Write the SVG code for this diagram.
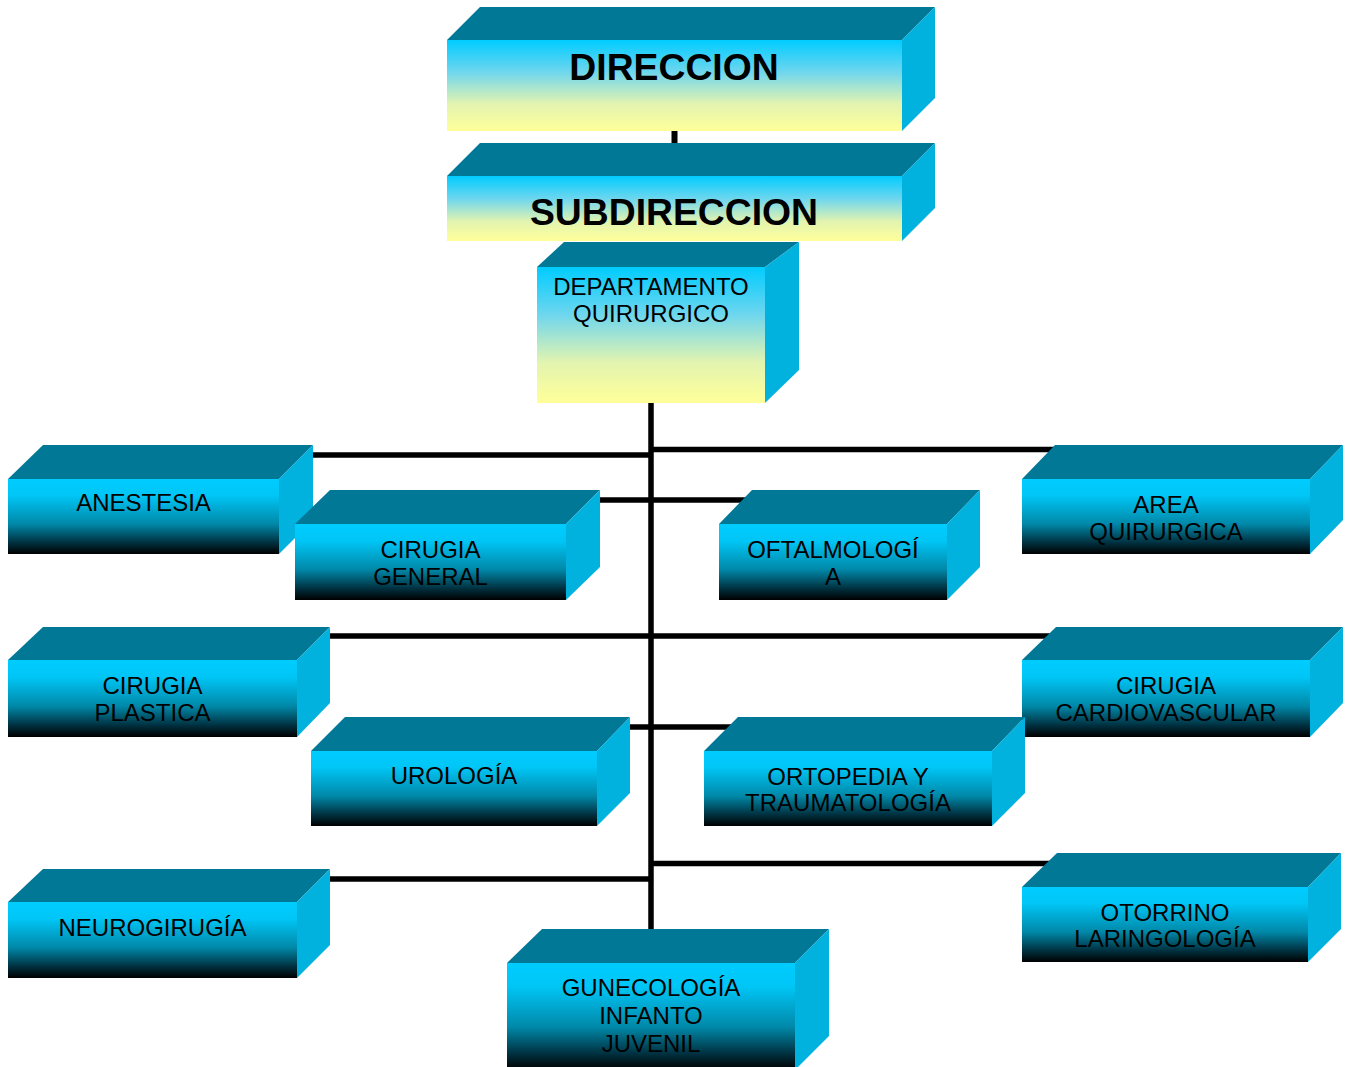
<svg xmlns="http://www.w3.org/2000/svg" width="1354" height="1067" viewBox="0 0 1354 1067">
  <defs>
    <linearGradient id="gy" x1="0" y1="0" x2="0" y2="1">
      <stop offset="0" stop-color="#00CCFF"/>
      <stop offset="0.35" stop-color="#6ED6EE"/>
      <stop offset="0.7" stop-color="#E2F4B0"/>
      <stop offset="1" stop-color="#FFFF99"/>
    </linearGradient>
    <linearGradient id="gb" x1="0" y1="0" x2="0" y2="1">
      <stop offset="0" stop-color="#00CCFF"/>
      <stop offset="0.22" stop-color="#00C6F6"/>
      <stop offset="0.6" stop-color="#0088A8"/>
      <stop offset="0.85" stop-color="#00303F"/>
      <stop offset="1" stop-color="#000000"/>
    </linearGradient>
    <style>
      .top { fill: #007896; }
      .side { fill: #00B2DD; }
      .fy { fill: url(#gy); }
      .fb { fill: url(#gb); }
      .lbl { font-family: "Liberation Sans", Arial, sans-serif; font-size: 24px; fill: #000; text-anchor: middle; }
      .big { font-family: "Liberation Sans", Arial, sans-serif; font-size: 37.3px; font-weight: bold; fill: #000; text-anchor: middle; }
      .ln { stroke: #000; stroke-width: 5.5; fill: none; }
    </style>
  </defs>
  <rect width="1354" height="1067" fill="#fff"/>

  <!-- connector lines, drawn under the boxes -->
  <g id="connectors">
    <line class="ln" x1="674.5" y1="128" x2="674.5" y2="146" style="stroke-width:6"/>
    <line class="ln" x1="651" y1="400" x2="651" y2="935"/>
    <line class="ln" x1="310" y1="455" x2="651" y2="455"/>
    <line class="ln" x1="651" y1="449.5" x2="1062" y2="449.5"/>
    <line class="ln" x1="598" y1="500" x2="765" y2="500"/>
    <line class="ln" x1="328" y1="636" x2="1062" y2="636"/>
    <line class="ln" x1="628" y1="727" x2="750" y2="727"/>
    <line class="ln" x1="651" y1="863.5" x2="1062" y2="863.5"/>
    <line class="ln" x1="328" y1="879" x2="651" y2="879"/>
  </g>

  <g id="direccion">
    <polygon class="top" points="447,40 480,7 935,7 902,40"/>
    <polygon class="side" points="902,40 935,7 935,98 902,131"/>
    <rect class="fy" x="447" y="40" width="455" height="91"/>
    <text class="big" x="674" y="80">DIRECCION</text>
  </g>

  <g id="subdireccion">
    <polygon class="top" points="447,176 480,143 935,143 902,176"/>
    <polygon class="side" points="902,176 935,143 935,208 902,241"/>
    <rect class="fy" x="447" y="176" width="455" height="65"/>
    <text class="big" x="674" y="225">SUBDIRECCION</text>
  </g>

  <g id="departamento">
    <polygon class="top" points="537,267 564,242 799,242 765,267"/>
    <polygon class="side" points="765,267 799,242 799,370 765,403"/>
    <rect class="fy" x="537" y="267" width="228" height="136"/>
    <text class="lbl" x="651" y="295">DEPARTAMENTO</text>
    <text class="lbl" x="651" y="322">QUIRURGICO</text>
  </g>

  <g id="anestesia">
    <polygon class="top" points="8,479 43,445 313,445 279,479"/>
    <polygon class="side" points="279,479 313,445 313,520 279,554"/>
    <rect class="fb" x="8" y="479" width="271" height="75"/>
    <text class="lbl" x="143.5" y="511">ANESTESIA</text>
  </g>

  <g id="cirugia-general">
    <polygon class="top" points="295,524 330,490 600,490 566,524"/>
    <polygon class="side" points="566,524 600,490 600,567 566,600"/>
    <rect class="fb" x="295" y="524" width="271" height="76"/>
    <text class="lbl" x="430.5" y="558">CIRUGIA</text>
    <text class="lbl" x="430.5" y="585">GENERAL</text>
  </g>

  <g id="oftalmologia">
    <polygon class="top" points="719,524 752,490 980,490 947,524"/>
    <polygon class="side" points="947,524 980,490 980,567 947,600"/>
    <rect class="fb" x="719" y="524" width="228" height="76"/>
    <text class="lbl" x="833" y="558">OFTALMOLOGÍ</text>
    <text class="lbl" x="833" y="585">A</text>
  </g>

  <g id="area-quirurgica">
    <polygon class="top" points="1022,479 1055,445 1343,445 1310,479"/>
    <polygon class="side" points="1310,479 1343,445 1343,520 1310,554"/>
    <rect class="fb" x="1022" y="479" width="288" height="75"/>
    <text class="lbl" x="1166" y="513">AREA</text>
    <text class="lbl" x="1166" y="540">QUIRURGICA</text>
  </g>

  <g id="cirugia-plastica">
    <polygon class="top" points="8,660 43,627 330,627 297,660"/>
    <polygon class="side" points="297,660 330,627 330,703 297,737"/>
    <rect class="fb" x="8" y="660" width="289" height="77"/>
    <text class="lbl" x="152.5" y="694">CIRUGIA</text>
    <text class="lbl" x="152.5" y="721">PLASTICA</text>
  </g>

  <g id="cirugia-cardiovascular">
    <polygon class="top" points="1022,660 1056,627 1343,627 1310,660"/>
    <polygon class="side" points="1310,660 1343,627 1343,703 1310,737"/>
    <rect class="fb" x="1022" y="660" width="288" height="77"/>
    <text class="lbl" x="1166" y="694">CIRUGIA</text>
    <text class="lbl" x="1166" y="721">CARDIOVASCULAR</text>
  </g>

  <g id="urologia">
    <polygon class="top" points="311,751 345,717 630,717 597,751"/>
    <polygon class="side" points="597,751 630,717 630,793 597,826"/>
    <rect class="fb" x="311" y="751" width="286" height="75"/>
    <text class="lbl" x="454" y="784">UROLOGÍA</text>
  </g>

  <g id="ortopedia">
    <polygon class="top" points="704,751 738,717 1025,717 992,751"/>
    <polygon class="side" points="992,751 1025,717 1025,793 992,826"/>
    <rect class="fb" x="704" y="751" width="288" height="75"/>
    <text class="lbl" x="848" y="785">ORTOPEDIA Y</text>
    <text class="lbl" x="848" y="811">TRAUMATOLOGÍA</text>
  </g>

  <g id="neurocirugia">
    <polygon class="top" points="8,902 43,869 330,869 297,902"/>
    <polygon class="side" points="297,902 330,869 330,945 297,978"/>
    <rect class="fb" x="8" y="902" width="289" height="76"/>
    <text class="lbl" x="152.5" y="936">NEUROGIRUGÍA</text>
  </g>

  <g id="otorrino">
    <polygon class="top" points="1022,887 1057,853 1341,853 1308,887"/>
    <polygon class="side" points="1308,887 1341,853 1341,929 1308,962"/>
    <rect class="fb" x="1022" y="887" width="286" height="75"/>
    <text class="lbl" x="1165" y="921">OTORRINO</text>
    <text class="lbl" x="1165" y="947">LARINGOLOGÍA</text>
  </g>

  <g id="ginecologia">
    <polygon class="top" points="507,963 542,929 829,929 795,963"/>
    <polygon class="side" points="795,963 829,929 829,1036 795,1070"/>
    <rect class="fb" x="507" y="963" width="288" height="107"/>
    <text class="lbl" x="651" y="996">GUNECOLOGÍA</text>
    <text class="lbl" x="651" y="1024">INFANTO</text>
    <text class="lbl" x="651" y="1052">JUVENIL</text>
  </g>
</svg>
